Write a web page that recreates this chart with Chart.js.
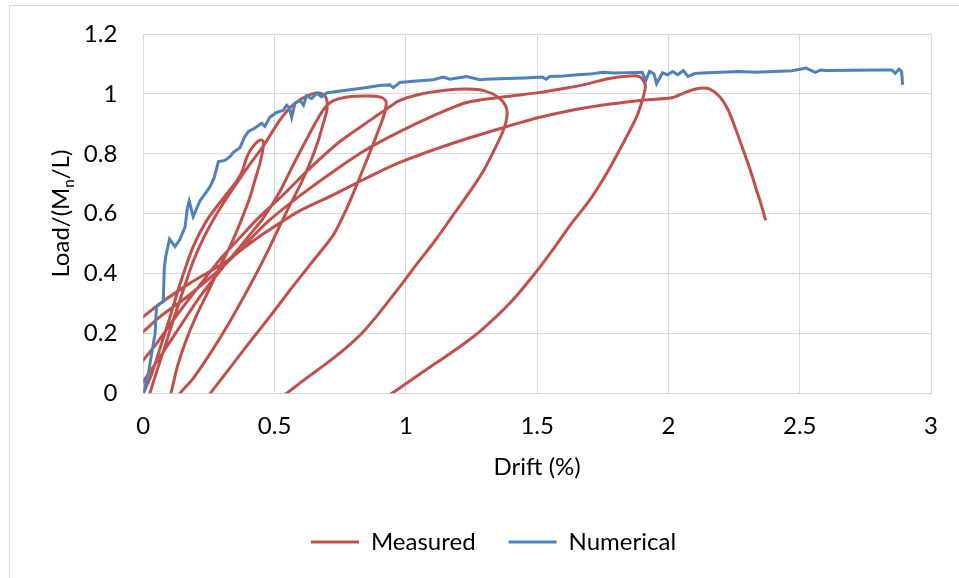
<!DOCTYPE html>
<html>
<head>
<meta charset="utf-8">
<script src="https://cdn.jsdelivr.net/npm/chart.js@4.4.1/dist/chart.umd.min.js"></script>
<style>
  html, body { margin: 0; padding: 0; background: #fff; overflow: hidden; }
  #frame { position: absolute; left: 9px; top: 5px; width: 1000px; height: 1000px;
           border: 1px solid #d9d9d9; box-sizing: border-box; }
  #wrap { position: absolute; left: 0; top: 0; width: 959px; height: 578px; }
</style>
</head>
<body>
<div id="frame"></div>
<div id="wrap"><canvas id="c" width="959" height="578"></canvas></div>
<script>
// Cyclic test (Measured): drift (%) and normalised load, cycle after cycle.
// Points below zero drift / zero load belong to the reversed half-cycles and are clipped by the axes.
const measuredDrift = [
  // cycle 1
  0, 0.03, 0.06, 0.1, 0.14, 0.19, 0.24, 0.29, 0.33, 0.36, 0.378, 0.39, 0.405, 0.425, 0.445, 0.456,
  0.457, 0.445, 0.428, 0.408, 0.385, 0.36, 0.33, 0.29, 0.25, 0.2, 0.16, 0.13, 0.105,
  0.08, -0.1, -0.3, -0.2, -0.05, 0,
  // cycle 2
  0.025, 0.05, 0.08, 0.12, 0.16, 0.19, 0.23, 0.28, 0.33, 0.4, 0.457, 0.52, 0.56, 0.6, 0.64, 0.67, 0.69, 0.7,
  0.698, 0.685, 0.665, 0.64, 0.6, 0.546, 0.508, 0.46, 0.4, 0.33, 0.26, 0.19, 0.14,
  0.1, -0.2, -0.45, -0.3, -0.08,
  // cycle 3
  0, 0.064, 0.14, 0.216, 0.305, 0.36, 0.406, 0.457, 0.52, 0.571, 0.62, 0.66, 0.69, 0.72, 0.77, 0.85, 0.9, 0.924,
  0.92, 0.905, 0.87, 0.84, 0.813, 0.775, 0.724, 0.64, 0.559, 0.482, 0.4, 0.33, 0.255,
  0.2, -0.2, -0.6, -0.4, -0.06,
  // cycle 4
  0, 0.051, 0.14, 0.241, 0.3, 0.368, 0.432, 0.533, 0.635, 0.749, 0.876, 0.94, 0.977, 1.05, 1.15, 1.235, 1.3, 1.35, 1.38,
  1.385, 1.37, 1.343, 1.3, 1.249, 1.18, 1.113, 1.04, 0.977, 0.9, 0.837, 0.77, 0.698, 0.62, 0.546,
  0.47, 0, -0.7, -0.5, -0.08,
  // cycle 5
  0, 0.064, 0.178, 0.305, 0.38, 0.47, 0.597, 0.724, 0.851, 0.977, 1.1, 1.235, 1.385, 1.511, 1.6, 1.676, 1.765, 1.853, 1.891, 1.912,
  1.904, 1.879, 1.828, 1.765, 1.7, 1.629, 1.56, 1.494, 1.4, 1.29, 1.2, 1.113, 1.03, 0.947,
  0.85, 0.3, -0.8, -0.6, -0.1,
  // final push to failure
  0, 0.064, 0.178, 0.305, 0.39, 0.47, 0.597, 0.724, 0.851, 0.977, 1.181, 1.385, 1.511, 1.701, 1.891, 2.012, 2.056, 2.09,
  2.12, 2.158, 2.196, 2.227, 2.255, 2.28, 2.31, 2.335, 2.355, 2.37
];
const measuredLoad = [
  0, 0.06, 0.14, 0.25, 0.365, 0.49, 0.575, 0.635, 0.68, 0.715, 0.745, 0.778, 0.808, 0.832, 0.846, 0.843,
  0.825, 0.77, 0.72, 0.66, 0.605, 0.55, 0.49, 0.42, 0.345, 0.255, 0.17, 0.09, 0,
  -0.07, -0.4, -0.65, -0.45, -0.18, -0.07,
  0, 0.07, 0.15, 0.26, 0.365, 0.44, 0.52, 0.6, 0.668, 0.758, 0.826, 0.912, 0.955, 0.982, 0.999, 1.003, 0.995, 0.975,
  0.94, 0.9, 0.84, 0.78, 0.7, 0.607, 0.537, 0.45, 0.35, 0.24, 0.14, 0.05, 0,
  -0.05, -0.5, -0.8, -0.4, -0.07,
  0.039, 0.122, 0.223, 0.323, 0.423, 0.48, 0.53, 0.585, 0.674, 0.763, 0.845, 0.91, 0.952, 0.976, 0.989, 0.993, 0.99, 0.975,
  0.94, 0.9, 0.82, 0.755, 0.696, 0.618, 0.529, 0.435, 0.345, 0.256, 0.165, 0.085, 0,
  -0.06, -0.6, -0.9, -0.35, 0.045,
  0.111, 0.167, 0.275, 0.39, 0.455, 0.52, 0.58, 0.663, 0.752, 0.841, 0.919, 0.958, 0.978, 0.998, 1.012, 1.016, 1.01, 0.99, 0.96,
  0.925, 0.875, 0.824, 0.75, 0.68, 0.595, 0.512, 0.43, 0.356, 0.27, 0.205, 0.15, 0.1, 0.05, 0,
  -0.05, -0.4, -0.95, -0.3, 0.143,
  0.206, 0.256, 0.33, 0.425, 0.49, 0.57, 0.66, 0.741, 0.815, 0.874, 0.925, 0.972, 0.991, 1.005, 1.018, 1.03, 1.05, 1.06, 1.057, 1.03,
  0.99, 0.924, 0.836, 0.735, 0.645, 0.565, 0.48, 0.403, 0.305, 0.213, 0.152, 0.1, 0.05, 0,
  -0.05, -0.5, -1.0, -0.3, 0.187,
  0.256, 0.3, 0.368, 0.434, 0.49, 0.54, 0.61, 0.663, 0.719, 0.771, 0.836, 0.891, 0.922, 0.956, 0.978, 0.987, 1.002, 1.013,
  1.019, 1.016, 0.99, 0.947, 0.885, 0.824, 0.75, 0.68, 0.625, 0.578
];

// Numerical pushover response
const numericalDrift = [
  0, 0.02, 0.032, 0.045, 0.05, 0.065, 0.076, 0.08, 0.086, 0.1, 0.121, 0.14, 0.159, 0.168, 0.175, 0.19,
  0.216, 0.24, 0.254, 0.27, 0.286, 0.311, 0.33, 0.343, 0.368, 0.385, 0.4, 0.425, 0.451, 0.463, 0.482,
  0.508, 0.533, 0.546, 0.556, 0.565, 0.578, 0.597, 0.61, 0.622, 0.641, 0.66, 0.679, 0.698, 0.736,
  0.787, 0.838, 0.9, 0.939, 0.952, 0.977, 1.04, 1.104, 1.142, 1.168, 1.231, 1.282, 1.304, 1.385,
  1.45, 1.52, 1.534, 1.548, 1.6, 1.655, 1.7, 1.751, 1.79, 1.85, 1.9, 1.914, 1.928, 1.945, 1.955,
  1.977, 1.997, 2.016, 2.035, 2.057, 2.074, 2.1, 2.13, 2.2, 2.267, 2.335, 2.4, 2.47, 2.525, 2.545,
  2.559, 2.58, 2.6, 2.7, 2.8, 2.851, 2.864, 2.878, 2.888, 2.892
];
const numericalLoad = [
  0, 0.07, 0.134, 0.2, 0.29, 0.3, 0.306, 0.42, 0.46, 0.515, 0.49, 0.515, 0.555, 0.62, 0.642, 0.59,
  0.643, 0.672, 0.69, 0.72, 0.774, 0.778, 0.79, 0.805, 0.82, 0.855, 0.874, 0.886, 0.902, 0.892, 0.922,
  0.938, 0.945, 0.962, 0.955, 0.922, 0.969, 0.978, 0.962, 0.994, 0.984, 1.002, 0.99, 1.003, 1.008,
  1.014, 1.02, 1.028, 1.03, 1.021, 1.038, 1.043, 1.047, 1.056, 1.049, 1.058, 1.047, 1.049, 1.051,
  1.053, 1.056, 1.049, 1.058, 1.06, 1.064, 1.066, 1.072, 1.07, 1.071, 1.072, 1.045, 1.075, 1.067, 1.034,
  1.07, 1.064, 1.075, 1.064, 1.078, 1.058, 1.068, 1.07, 1.072, 1.075, 1.072, 1.075, 1.077, 1.086, 1.078,
  1.072, 1.08, 1.078, 1.079, 1.08, 1.08, 1.069, 1.083, 1.075, 1.03
];

const xTickValues = [0, 0.5, 1, 1.5, 2, 2.5, 3];
const xTickLabels = ['0', '0.5', '1', '1.5', '2', '2.5', '3'];
const yTickValues = [0, 0.2, 0.4, 0.6, 0.8, 1, 1.2];
const yTickLabels = ['0', '0.2', '0.4', '0.6', '0.8', '1', '1.2'];
const yTitleParts = ['Load/(M', 'n', '/L)'];

const RED = '#C0504D';
const BLUE = '#4F81BD';
const GRID = '#d9d9d9';
const FONT_SIZE = 24;

const toPoints = (xs, ys) => xs.map((x, i) => ({ x, y: ys[i] }));

// Rotated y-axis title with a subscript "n"
const yTitlePlugin = {
  id: 'yTitleSub',
  afterDraw(chart) {
    const ctx = chart.ctx;
    const area = chart.chartArea;
    const cy = (area.top + area.bottom) / 2;
    const fonts = [FONT_SIZE + 'px Lato', '15px Lato', FONT_SIZE + 'px Lato'];
    const shifts = [0, 5, 0];
    ctx.save();
    ctx.translate(61, cy);
    ctx.rotate(-Math.PI / 2);
    ctx.fillStyle = '#000';
    ctx.textBaseline = 'alphabetic';
    ctx.textAlign = 'left';
    const widths = yTitleParts.map((t, i) => { ctx.font = fonts[i]; return ctx.measureText(t).width; });
    let x = -widths.reduce((a, b) => a + b, 0) / 2;
    yTitleParts.forEach((t, i) => {
      ctx.font = fonts[i];
      ctx.fillText(t, x, 8 + shifts[i]);
      x += widths[i];
    });
    ctx.restore();
  }
};

function draw() {
  Chart.defaults.font.family = 'Lato';
  Chart.defaults.font.size = FONT_SIZE;
  Chart.defaults.color = '#000';

  new Chart(document.getElementById('c'), {
    type: 'scatter',
    data: {
      datasets: [
        {
          label: 'Measured',
          data: toPoints(measuredDrift, measuredLoad),
          showLine: true,
          borderColor: RED,
          backgroundColor: RED,
          borderWidth: 3,
          pointRadius: 0,
          tension: 0.3,
          order: 1
        },
        {
          label: 'Numerical',
          data: toPoints(numericalDrift, numericalLoad),
          showLine: true,
          borderColor: BLUE,
          backgroundColor: BLUE,
          borderWidth: 3,
          pointRadius: 0,
          tension: 0,
          order: 0
        }
      ]
    },
    options: {
      responsive: false,
      animation: false,
      devicePixelRatio: 1,
      layout: { padding: { left: 56, right: 28, top: 34, bottom: 14 } },
      plugins: {
        tooltip: { enabled: false },
        legend: {
          position: 'bottom',
          labels: {
            boxWidth: 48,
            boxHeight: 3,
            padding: 33,
            color: '#000',
            font: { size: FONT_SIZE },
            sort: (a, b) => a.datasetIndex - b.datasetIndex,
            generateLabels(chart) {
              return Chart.defaults.plugins.legend.labels.generateLabels(chart).map(item => ({
                ...item, fillStyle: item.strokeStyle, lineWidth: 0
              }));
            }
          }
        }
      },
      scales: {
        x: {
          type: 'linear',
          min: 0,
          max: 3,
          afterBuildTicks: s => { s.ticks = xTickValues.map(v => ({ value: v })); },
          afterFit: s => { s.height = 103.7; },
          ticks: {
            padding: 19,
            color: '#000',
            maxRotation: 0,
            callback: (v, i) => xTickLabels[i]
          },
          grid: { color: GRID, lineWidth: 1, drawTicks: false },
          border: { color: GRID, width: 1 },
          title: { display: true, text: 'Drift (%)', color: '#000', padding: { top: 0, bottom: 15 } }
        },
        y: {
          type: 'linear',
          min: 0,
          max: 1.2,
          afterBuildTicks: s => { s.ticks = yTickValues.map(v => ({ value: v })); },
          afterFit: s => { s.width = 87.3; },
          ticks: {
            padding: 16,
            color: '#000',
            callback: (v, i) => yTickLabels[i]
          },
          grid: { color: GRID, lineWidth: 1, drawTicks: true, tickLength: 10, tickColor: 'rgba(0,0,0,0)' },
          border: { color: GRID, width: 1 }
        }
      }
    },
    plugins: [yTitlePlugin]
  });
}

if (document.fonts && document.fonts.load) {
  document.fonts.load(FONT_SIZE + 'px Lato').then(draw, draw);
} else {
  draw();
}
</script>
</body>
</html>
